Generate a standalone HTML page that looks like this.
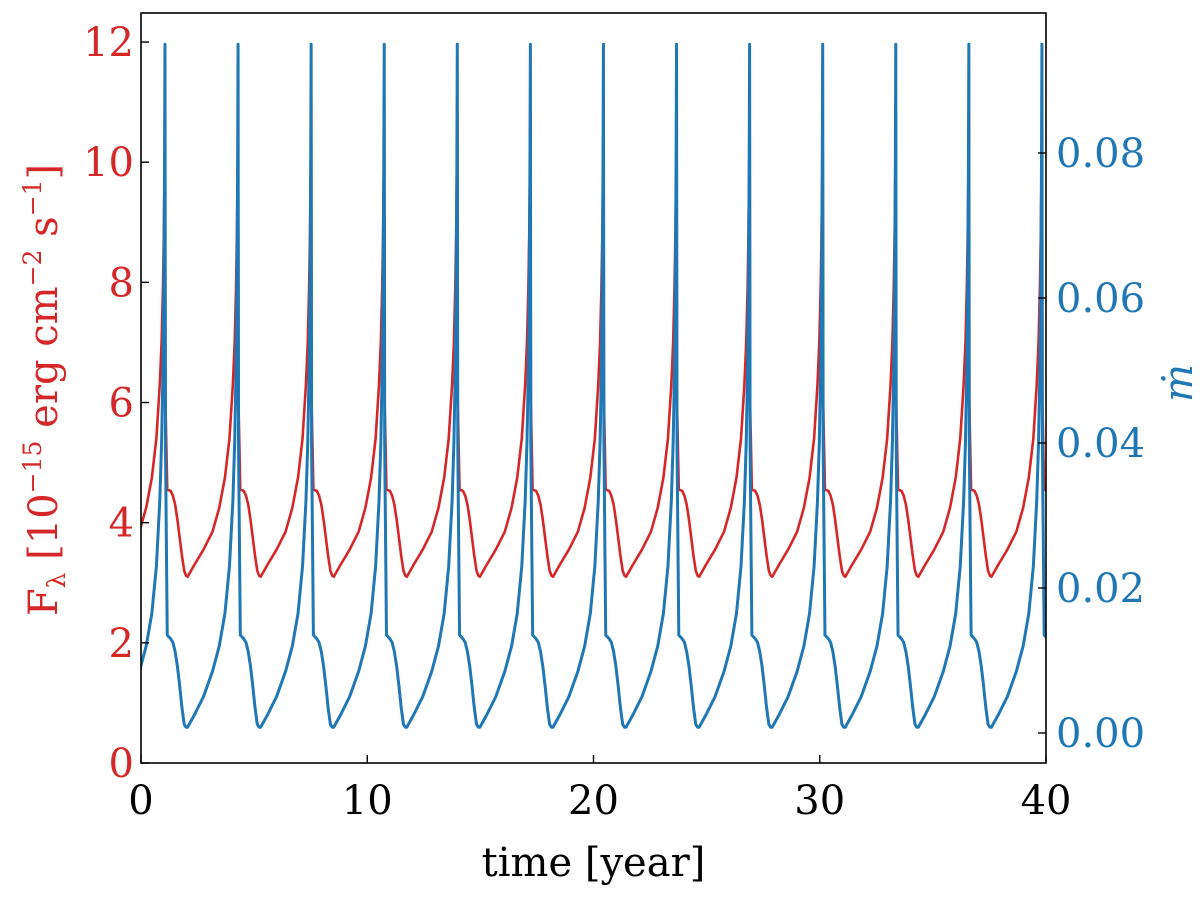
<!DOCTYPE html>
<html><head><meta charset="utf-8"><style>
body{margin:0;background:#fff;}
svg text{font-family:"DejaVu Serif","Liberation Serif",serif;}
</style></head><body>
<svg id="chart" width="1200" height="895" xmlns="http://www.w3.org/2000/svg"></svg>
<script>
// Data
const peakTimes = [-2.17,1.06,4.29,7.52,10.75,13.98,17.21,20.44,23.67,26.90,30.13,33.36,36.59,39.82];
const cycleDt   = [0, 0.02, 0.1, 0.25, 0.35, 0.45, 0.55, 0.65, 0.75, 0.85, 0.93, 1.0, 1.3, 1.7, 2.1, 2.4, 2.65, 2.85, 3.0, 3.08, 3.14, 3.18, 3.21, 3.23];
const fluxCycle = [10.8, 6.0, 4.55, 4.53, 4.45, 4.3, 4.05, 3.75, 3.45, 3.2, 3.12, 3.1, 3.3, 3.55, 3.85, 4.25, 4.75, 5.4, 6.3, 7.0, 7.9, 8.8, 9.8, 10.8];
const mdotCycle = [0.095, 0.04, 0.0135, 0.013, 0.0125, 0.0112, 0.0092, 0.0065, 0.0035, 0.0012, 0.0008, 0.0008, 0.0025, 0.005, 0.0085, 0.012, 0.0165, 0.023, 0.032, 0.040, 0.050, 0.062, 0.078, 0.095];
const xTicks = [0,10,20,30,40];
const yLeftTicks = [0,2,4,6,8,10,12];
const yRightTicks = [0,0.02,0.04,0.06,0.08];

const svg = document.getElementById('chart');
const NS = 'http://www.w3.org/2000/svg';
const L=141,R=1046,T=13,B=763;
const xS = t => L + (t-0)/40*(R-L);
const yL = v => 763 - v*60.08;
const yR = v => 733 - v*7250;
function mk(tag, attrs){const e=document.createElementNS(NS,tag);for(const k in attrs)e.setAttribute(k,attrs[k]);svg.appendChild(e);return e;}

const defs=mk('defs',{});
const cp=document.createElementNS(NS,'clipPath');cp.setAttribute('id','clip');
const cr=document.createElementNS(NS,'rect');cr.setAttribute('x',L);cr.setAttribute('y',T);cr.setAttribute('width',R-L);cr.setAttribute('height',B-T);
cp.appendChild(cr);defs.appendChild(cp);

function series(vals, yf){
  let pts=[];
  peakTimes.forEach(tp=>{cycleDt.forEach((dt,i)=>{pts.push(xS(tp+dt).toFixed(2)+','+yf(vals[i]).toFixed(2));});});
  return 'M'+pts.join(' L');
}
const red=mk('path',{d:series(fluxCycle,yL),fill:'none',stroke:'#d62728','stroke-width':2.6,'clip-path':'url(#clip)','stroke-linejoin':'round'});


const blue=mk('path',{d:series(mdotCycle,yR),fill:'none',stroke:'#1f77b4','stroke-width':3,'clip-path':'url(#clip)','stroke-linejoin':'round'});



const frame=mk('rect',{x:L,y:T,width:R-L,height:B-T,fill:'none',stroke:'#000','stroke-width':1.6});



xTicks.forEach(t=>{
  const x=xS(t);
  mk('line',{x1:x,x2:x,y1:B,y2:B-8,stroke:'#000','stroke-width':1.4});
  const tx=mk('text',{x:x,y:B+51,'font-size':40,'text-anchor':'middle',fill:'#000'});tx.textContent=t;
  
  
});
yLeftTicks.forEach(v=>{
  const y=yL(v);
  mk('line',{x1:L,x2:L+8,y1:y,y2:y,stroke:'#000','stroke-width':1.4});
  const tx=mk('text',{x:L-7,y:y+14,'font-size':40,'text-anchor':'end',fill:'#d62728'});tx.textContent=v;
  
  
});
yRightTicks.forEach(v=>{
  const y=yR(v);
  mk('line',{x1:R,x2:R-8,y1:y,y2:y,stroke:'#000','stroke-width':1.4});
  const tx=mk('text',{x:R+10,y:y+14,'font-size':40,'text-anchor':'start',fill:'#1f77b4'});tx.textContent=v.toFixed(2);
  
  
});
const xl=mk('text',{x:(L+R)/2,y:876,'font-size':40,'text-anchor':'middle',fill:'#000'});xl.textContent='time [year]';


const yl=mk('text',{x:0,y:0,'font-size':40,'text-anchor':'middle',fill:'#d62728',transform:'translate(57,390) rotate(-90)'});
yl.innerHTML='F<tspan font-size="25" dy="8">λ</tspan><tspan dy="-8"> [10</tspan><tspan font-size="25" dy="-16">−15</tspan><tspan dy="16"> erg cm</tspan><tspan font-size="25" dy="-16">−2</tspan><tspan dy="16"> s</tspan><tspan font-size="25" dy="-16">−1</tspan><tspan dy="16">]</tspan>';


const yr=mk('text',{x:0,y:0,'font-size':40,'font-style':'italic','text-anchor':'middle',fill:'#1f77b4',transform:'translate(1192,383) rotate(-90)'});
yr.textContent='ṁ';


</script>
</body></html>
